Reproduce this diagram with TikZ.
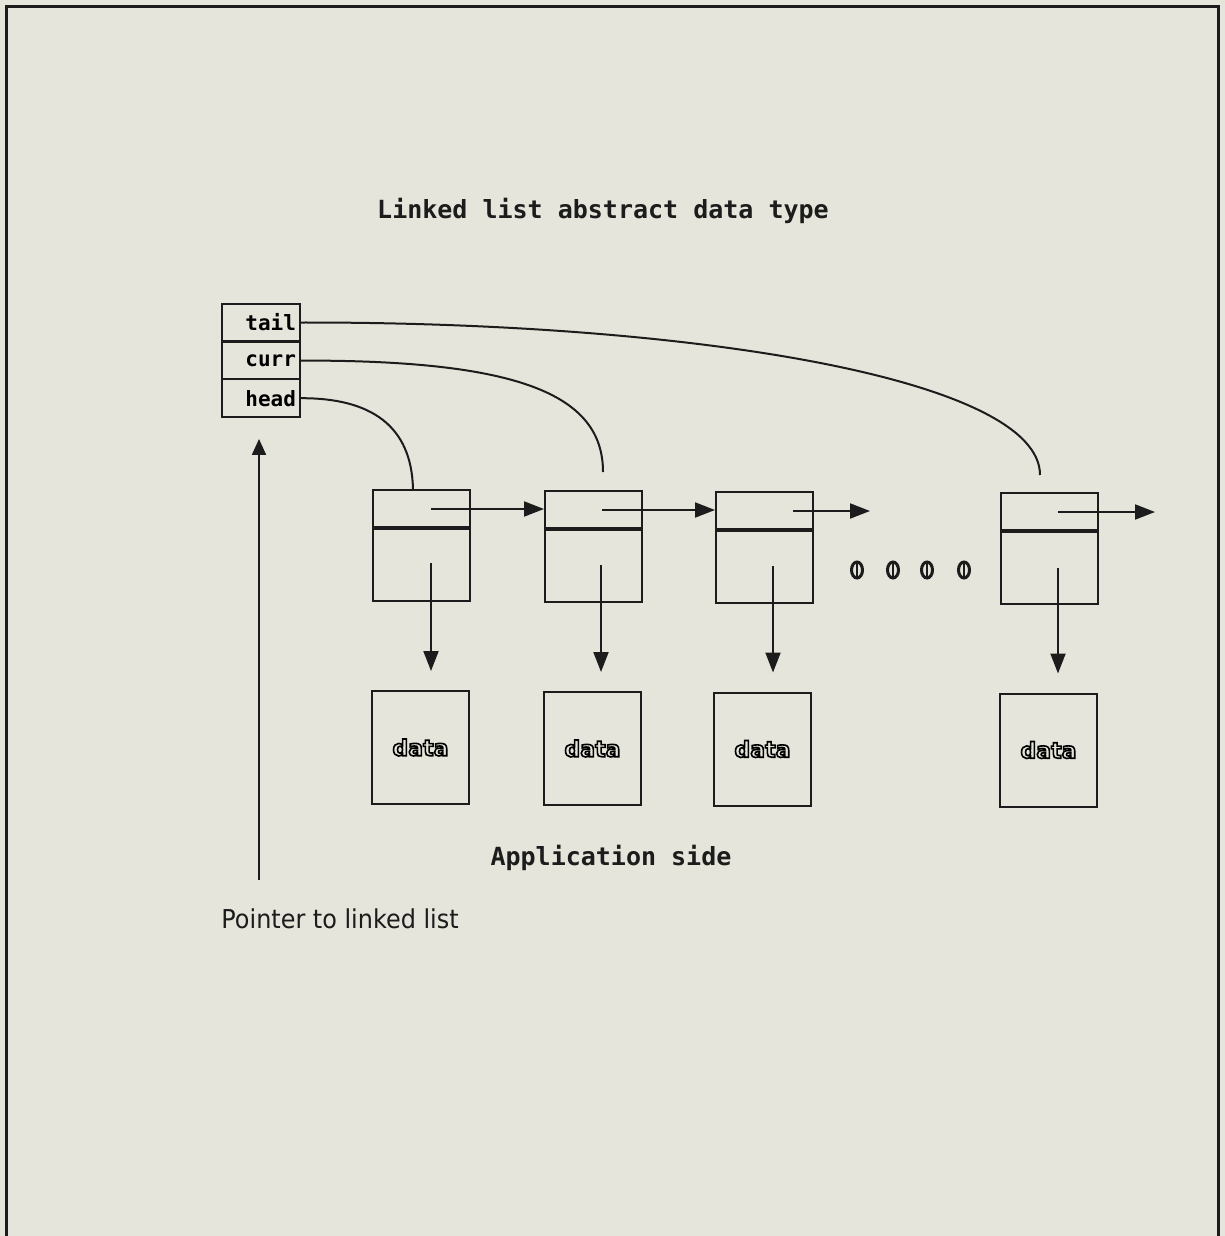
\documentclass[tikz,border=0pt]{standalone}
\usepackage{fontspec}
\usetikzlibrary{arrows.meta,calc,shapes.geometric}

\newfontfamily\monofam{DejaVu Sans Mono}
\newfontfamily\narrowsans[FakeStretch=0.92]{DejaVu Sans}
\newfontfamily\datafam{DejaVu Sans}

\definecolor{paper}{RGB}{229,229,219}
\definecolor{ink}{RGB}{28,28,28}

% outlined lettering: stroke the glyphs instead of filling them
\newcommand\hollow[1]{\special{pdf:literal direct 1 Tr 0.8 w}#1\special{pdf:literal direct 0 Tr}}

\tikzset{
  wire/.style={ink, line width=1pt},
  link/.style={wire, -{Triangle[length=10pt,width=7.5pt]}},
  uplink/.style={wire, -{Triangle[length=8pt,width=7pt]}},
  hdrcell/.style={draw=ink, line width=1pt, minimum height=18.75pt,
    text width=35pt, inner xsep=2pt, inner ysep=0pt, align=right,
    font=\monofam\bfseries\fontsize{10.5}{12}\selectfont},
  ptrcell/.style={draw=ink, line width=1pt, minimum width=48.5pt,
    minimum height=18.5pt, inner sep=0pt},
  bodycell/.style={draw=ink, line width=1pt, minimum width=48.5pt,
    minimum height=36pt, inner sep=0pt, anchor=north},
  databox/.style={draw=ink, line width=1pt, minimum width=48.5pt,
    minimum height=56.5pt, inner sep=0pt,
    font=\datafam\bfseries\fontsize{11}{13}\selectfont},
  heading/.style={ink, font=\monofam\bfseries\fontsize{12.5}{15}\selectfont},
  ellipsis/.style={ellipse, draw=ink, line width=1.5pt, minimum width=5.5pt,
    minimum height=8pt, inner sep=0pt,
    path picture={\draw[ink, line width=1pt]
      (path picture bounding box.north) -- (path picture bounding box.south);}},
}

\begin{document}
\begin{tikzpicture}[x=0.5pt, y=-0.5pt]
  % page and frame
  \useasboundingbox (0,0) rectangle (1225,1236);
  \fill[paper] (0,0) rectangle (1225,1236);
  \draw[ink, line width=1.5pt] (6,1236) -- (6,7) -- (1218,7) -- (1218,1236);

  % captions
  \node[heading] (title) at (603,211) {Linked list abstract data type};
  \node[heading] (side) at (611,858) {Application side};
  \node[ink, anchor=base west, inner sep=0pt,
    font=\narrowsans\fontsize{13}{15}\selectfont]
    (ptrlabel) at (221,928) {Pointer to linked list};

  % list header record
  \node[hdrcell] (tail) at (261,322.5) {tail};
  \node[hdrcell] (curr) at (261,360.6) {curr};
  \node[hdrcell] (head) at (261,398.2) {head};

  % list nodes: pointer cell on top, body cell below
  \node[ptrcell] (p1) at (421.5,508.5) {};
  \node[bodycell] (b1) at (p1.south) {};
  \node[ptrcell] (p2) at (593.5,509.5) {};
  \node[bodycell] (b2) at (p2.south) {};
  \node[ptrcell] (p3) at (764.5,510.5) {};
  \node[bodycell] (b3) at (p3.south) {};
  \node[ptrcell] (p4) at (1049.5,511.5) {};
  \node[bodycell] (b4) at (p4.south) {};

  % data records
  \node[databox] (d1) at (420.5,747.5) {\hollow{data}};
  \node[databox] (d2) at (592.5,748.5) {\hollow{data}};
  \node[databox] (d3) at (762.5,749) {\hollow{data}};
  \node[databox] (d4) at (1048.5,750) {\hollow{data}};

  % elided nodes
  \node[ellipsis] (e1) at (857,570) {};
  \node[ellipsis] (e2) at (893,570) {};
  \node[ellipsis] (e3) at (927,570) {};
  \node[ellipsis] (e4) at (964,570) {};

  % link field and data field origins inside each node
  \coordinate (n1) at (431,509);
  \coordinate (n2) at (602,510);
  \coordinate (n3) at (793,511);
  \coordinate (n4) at (1058,512);
  \coordinate (v1) at (431,563);
  \coordinate (v2) at (601,565);
  \coordinate (v3) at (773,566);
  \coordinate (v4) at (1058,568);
  \coordinate (next3) at (870,511);
  \coordinate (next4) at (1155,512);
  \coordinate (tailend) at (1040,475);
  \coordinate (currend) at (603,472);
  \coordinate (ptrbase) at (259,880);

  % next pointers
  \draw[link] (n1) -- (p2.west |- n1);
  \draw[link] (n2) -- (p3.west |- n2);
  \draw[link] (n3) -- (next3);
  \draw[link] (n4) -- (next4);

  % data pointers
  \draw[link, shorten >=9.5pt] (v1) -- (v1 |- d1.north);
  \draw[link, shorten >=9.5pt] (v2) -- (v2 |- d2.north);
  \draw[link, shorten >=9.5pt] (v3) -- (v3 |- d3.north);
  \draw[link, shorten >=9.5pt] (v4) -- (v4 |- d4.north);

  % header pointers
  \draw[wire] (tail.east) .. controls (700,322) and (1040,380) .. (tailend);
  \draw[wire] (curr.east) .. controls (520,360) and (603,395) .. (currend);
  \draw[wire] (head.east) .. controls (370,398) and (412,425) .. (413,490);

  % application-side pointer to the header
  \draw[uplink, shorten >=10.5pt] (ptrbase) -- (ptrbase |- head.south);
\end{tikzpicture}
\end{document}
